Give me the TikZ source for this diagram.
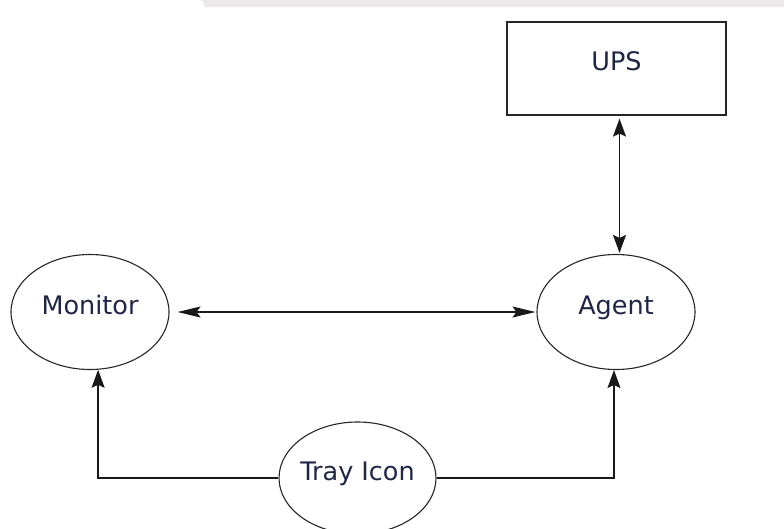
\documentclass[tikz,border=0pt]{standalone}
\usepackage{fontspec}
\setmainfont{DejaVu Sans}
\usetikzlibrary{shapes.geometric,arrows.meta}
\definecolor{bargrey}{HTML}{ECE8EA}
\definecolor{txt}{HTML}{1E2545}
\tikzset{
  lbl/.style={font=\fontsize{25.5}{30}\selectfont, text=txt, text height=0.73em, text depth=0.25em, inner sep=0pt},
  oval/.style={lbl, ellipse, draw=black!85, line width=1.1pt, inner xsep=-10pt},
  boxnode/.style={lbl, rectangle, draw=black!85, line width=1.2pt},
  conn/.style={line width=1.3pt, black!90},
}
\begin{document}
\begin{tikzpicture}[x=1pt, y=-1pt]
\useasboundingbox (0,0) rectangle (784,528);
\fill[bargrey] (202,0) -- (784,0) -- (784,7) -- (205,7) -- cycle;
\node[boxnode, minimum width=219pt, minimum height=93pt] (ups) at (616.5,68.5) {UPS};
\node[oval, minimum width=158pt, minimum height=115pt] (monitor) at (90,312) {Monitor};
\node[oval, minimum width=158pt, minimum height=115pt] (agent) at (616,312) {Agent};
\begin{scope}
\clip (0,0) rectangle (784,528);
\node[oval, minimum width=157pt, minimum height=112pt] (tray) at (357.5,478) {Tray Icon};
\end{scope}
\coordinate (upsx) at ([xshift=3pt]ups.south);
\draw[conn, {Stealth[length=18pt, width=13pt, inset=3pt]}-{Stealth[length=18pt, width=13pt, inset=3pt]}, shorten <=3pt, shorten >=1pt] (upsx) -- (upsx |- agent.north);
\draw[conn, {Stealth[length=23pt, width=11pt, inset=4pt]}-{Stealth[length=23pt, width=11pt, inset=4pt]}, shorten <=8pt, shorten >=1pt] (monitor.east) -- (agent.west);
\draw[conn, -{Stealth[length=18pt, width=13pt, inset=3pt]}] (tray.west) -| (monitor.-82);
\draw[conn, -{Stealth[length=18pt, width=13pt, inset=3pt]}] (tray.east) -| (agent.-92);
\end{tikzpicture}
\end{document}
